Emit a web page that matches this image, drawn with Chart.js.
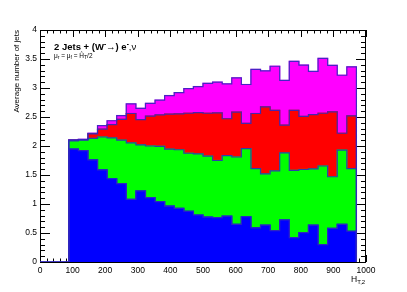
<!DOCTYPE html>
<html><head><meta charset="utf-8">
<script src="https://cdn.jsdelivr.net/npm/chart.js@4/dist/chart.umd.min.js"></script>
<style>html,body{margin:0;padding:0;background:#fff;overflow:hidden}</style>
</head><body>
<canvas id="c" width="407" height="292"></canvas>
<script>
// ---- data ----
const binCount = 34;          // histogram bins spanning the x range
const xMin = 0, xMax = 1000;
const firstBin = 3;           // first filled bin index
// layer contents per filled bin (bins 3..32)
const blueVals = [1.945,1.92,1.76,1.59,1.435,1.35,1.08,1.225,1.11,1.04,0.965,0.925,0.875,0.81,0.775,0.765,0.79,0.65,0.78,0.59,0.635,0.54,0.725,0.42,0.505,0.635,0.30,0.58,0.65,0.53];
const greenVals = [0.145,0.18,0.37,0.565,0.705,0.75,0.975,0.795,0.89,0.955,0.98,1.01,1.0,1.055,1.05,0.985,1.045,1.16,1.175,1.02,0.885,1.03,1.155,1.16,1.09,0.97,1.355,0.89,1.28,1.08];
const redVals = [0.01,0.01,0.08,0.135,0.23,0.36,0.505,0.435,0.515,0.54,0.605,0.62,0.69,0.71,0.74,0.82,0.635,0.775,0.435,0.95,1.155,1.045,0.48,1.035,0.915,0.935,0.91,1.12,0.29,0.91];
const magentaVals = [0.005,0.005,0.01,0.06,0.065,0.065,0.165,0.195,0.22,0.255,0.32,0.365,0.425,0.45,0.515,0.53,0.60,0.59,0.67,0.76,0.62,0.76,0.77,0.845,0.885,0.745,0.945,0.80,1.00,0.845];
const xTickStep = 100, xMinorStep = 20;
const yMin = 0, yMax = 4, yTickStep = 0.5, yMinorStep = 0.1;
const yTitle = 'Average number of jets';

// ---- build ----
const binWidth = (xMax - xMin) / binCount;
const centers = blueVals.map((_, k) => xMin + (firstBin + k + 0.5) * binWidth);
const layers = [
  {label: 'blue', values: blueVals, color: '#0000ff'},
  {label: 'green', values: greenVals, color: '#00ff00'},
  {label: 'red', values: redVals, color: '#ff0000'},
  {label: 'magenta', values: magentaVals, color: '#ff00ff'}
];
const barSets = layers.map(L => ({
  type: 'bar', label: L.label,
  data: centers.map((x, k) => ({x, y: L.values[k]})),
  backgroundColor: L.color, borderWidth: 0, inflateAmount: 0.6,
  barPercentage: 1, categoryPercentage: 1, order: 2, yAxisID: 'y'
}));
let cum = blueVals.map(() => 0);
const lineSets = layers.map(L => {
  cum = cum.map((c, k) => c + L.values[k]);
  const pts = [{x: xMin, y: 0}];
  cum.forEach((v, k) => pts.push({x: xMin + (firstBin + k) * binWidth, y: v}));
  pts.push({x: xMin + (firstBin + cum.length) * binWidth, y: 0});
  return {type: 'line', label: L.label + ' outline', data: pts, stepped: 'before',
    borderColor: 'rgba(50,40,190,0.9)', borderWidth: 1.2, pointRadius: 0, fill: false,
    order: 1, yAxisID: 'y2'};
});

const FONT = 'Liberation Sans';
Chart.defaults.font.family = FONT;
Chart.defaults.color = '#000';

function richText(ctx, x, y, segs) {
  let cx = x;
  for (const s of segs) {
    ctx.font = (s.bold ? 'bold ' : '') + s.size + 'px "' + FONT + '"';
    ctx.fillText(s.t, cx, y + (s.dy || 0));
    cx += ctx.measureText(s.t).width;
  }
}

const framePlugin = {
  id: 'frameTicks',
  beforeDatasetsDraw(chart) {
    const {ctx, chartArea: a, scales: {x, y}} = chart;
    ctx.save();
    ctx.strokeStyle = '#000'; ctx.lineWidth = 1;
    ctx.beginPath();
    const nx = Math.round((xMax - xMin) / xMinorStep);
    for (let i = 0; i <= nx; i++) {
      const v = xMin + i * xMinorStep;
      const px = Math.round(x.getPixelForValue(v)) + 0.5;
      const major = Math.abs(v / xTickStep - Math.round(v / xTickStep)) < 1e-6;
      const L = major ? 7 : 3.5;
      ctx.moveTo(px, a.bottom); ctx.lineTo(px, a.bottom - L);
      ctx.moveTo(px, a.top); ctx.lineTo(px, a.top + L);
    }
    const ny = Math.round((yMax - yMin) / yMinorStep);
    for (let i = 0; i <= ny; i++) {
      const v = yMin + i * yMinorStep;
      const py = Math.round(y.getPixelForValue(v)) + 0.5;
      const major = Math.abs(v / yTickStep - Math.round(v / yTickStep)) < 1e-6;
      const L = major ? 10 : 5;
      ctx.moveTo(a.left, py); ctx.lineTo(a.left + L, py);
      ctx.moveTo(a.right, py); ctx.lineTo(a.right - L, py);
    }
    ctx.stroke();
    ctx.strokeRect(a.left + 0.5, a.top + 0.5, a.right - a.left - 1, a.bottom - a.top);
    ctx.restore();
  },
  afterDraw(chart) {
    const {ctx} = chart;
    ctx.save();
    ctx.fillStyle = '#000';
    ctx.textBaseline = 'alphabetic';
    richText(ctx, 54, 50, [
      {t: '2 Jets + (W', size: 9.5, bold: true},
      {t: '-', size: 6.5, bold: true, dy: -4},
      {t: '\u2192) e', size: 9.5, bold: true},
      {t: '-', size: 6.5, bold: true, dy: -4},
      {t: ',\u03bd', size: 9.5, bold: false}
    ]);
    richText(ctx, 54, 57.5, [
      {t: '\u03bc', size: 6.5}, {t: 'r', size: 5, dy: 1.5},
      {t: ' = \u03bc', size: 6.5}, {t: 'f', size: 5, dy: 1.5},
      {t: ' = \u0124', size: 6.5}, {t: 'T', size: 5, dy: 1.5},
      {t: '/2', size: 6.5}
    ]);
    richText(ctx, 351, 282, [
      {t: 'H', size: 8.5}, {t: 'T,2', size: 6, dy: 2}
    ]);
    ctx.restore();
  }
};

new Chart(document.getElementById('c'), {
  data: {datasets: [...lineSets, ...barSets]},
  options: {
    responsive: false, animation: false, devicePixelRatio: 1,
    layout: {padding: {left: 0, right: 41, top: 30, bottom: 0}},
    plugins: {legend: {display: false}, tooltip: {enabled: false}},
    scales: {
      x: {type: 'linear', min: xMin, max: xMax, stacked: true, offset: false,
        grid: {display: false, drawTicks: false, offset: false}, border: {display: false},
        ticks: {stepSize: xTickStep, font: {size: 8.5}, color: '#000', padding: 4, maxRotation: 0,
          callback: v => String(v)},
        afterFit: s => { s.height = 30; }},
      y: {type: 'linear', min: yMin, max: yMax, stacked: true,
        grid: {display: false, drawTicks: false}, border: {display: false},
        ticks: {stepSize: yTickStep, font: {size: 8.5}, color: '#000', padding: 3,
          callback: v => String(Math.round(v * 10) / 10)},
        title: {display: true, text: yTitle, align: 'end', font: {size: 8}, color: '#000', padding: {top: 12, bottom: 0}},
        afterFit: s => { s.width = 40; }},
      y2: {type: 'linear', min: yMin, max: yMax, stacked: false, display: false}
    }
  },
  plugins: [framePlugin]
});
</script>
</body></html>
